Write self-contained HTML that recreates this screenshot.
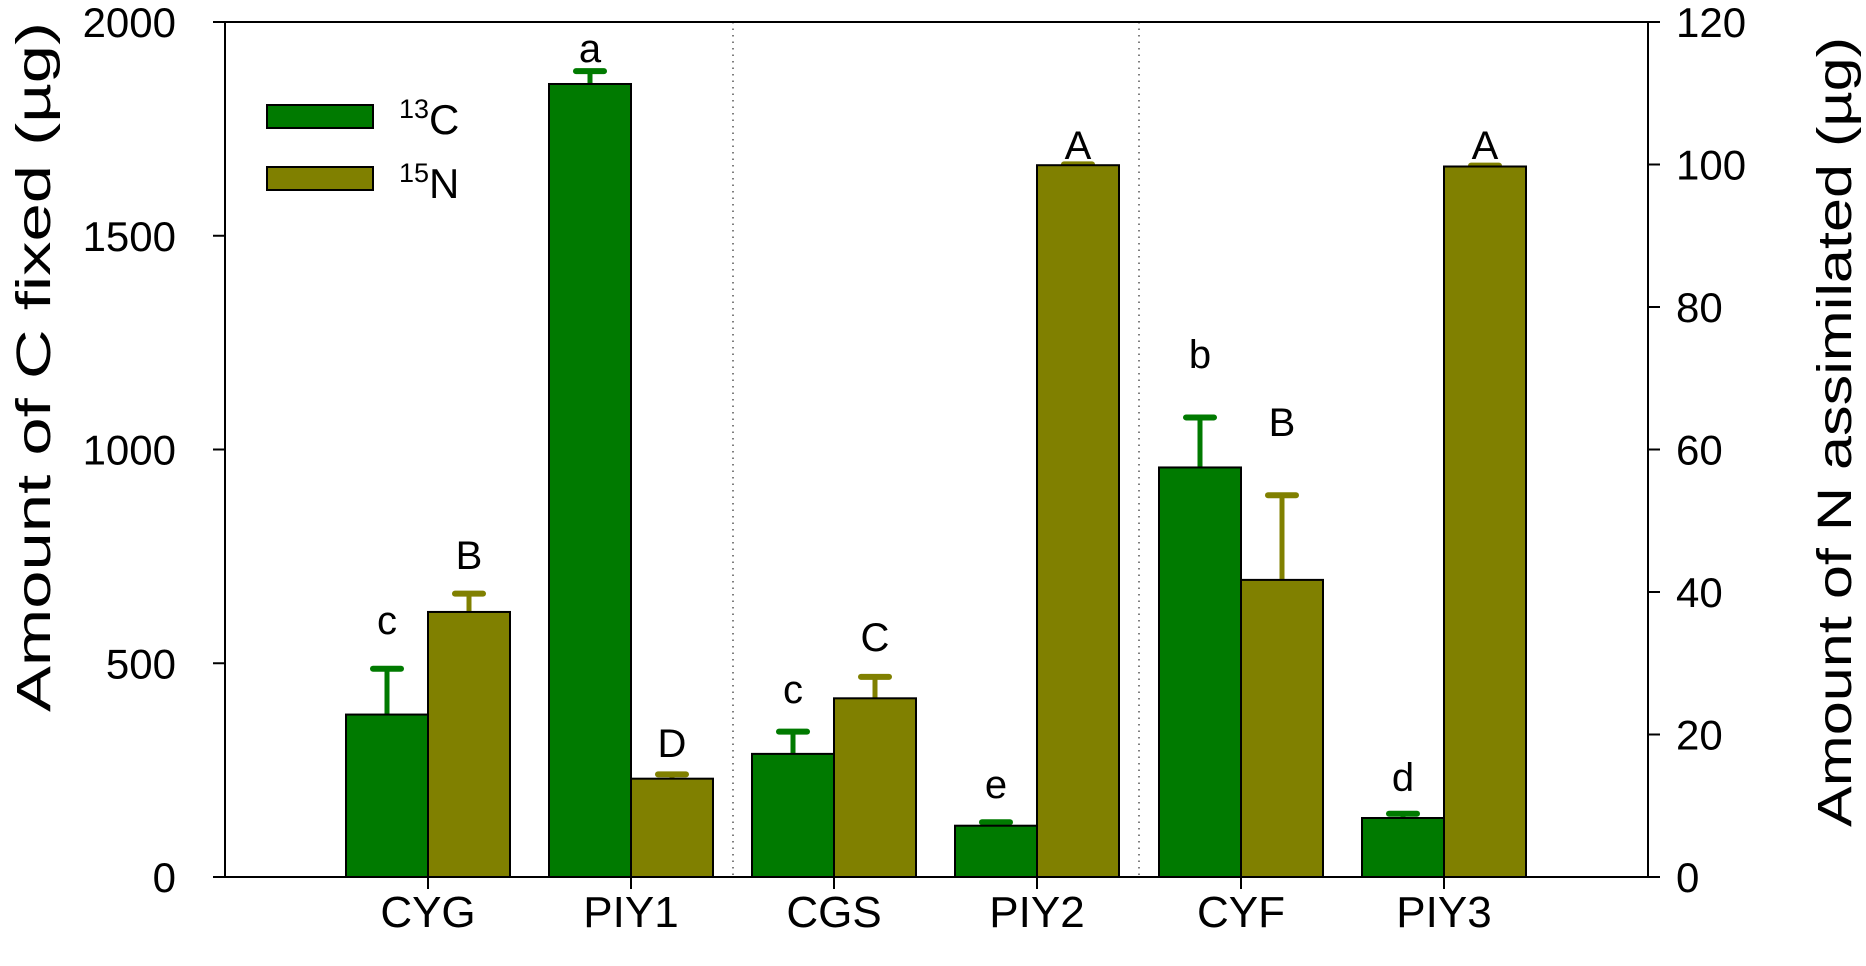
<!DOCTYPE html>
<html><head><meta charset="utf-8"><style>body{margin:0;background:#fff}svg{display:block}text{font-family:"Liberation Sans",Arial,sans-serif;fill:#000}</style></head><body>
<svg id="s" width="1866" height="966" viewBox="0 0 1866 966" xmlns="http://www.w3.org/2000/svg">
<g id="plot"></g>
<rect x="267" y="105" width="106" height="23" fill="#007a00" stroke="#000" stroke-width="2"/>
<rect x="267" y="167" width="106" height="23" fill="#808000" stroke="#000" stroke-width="2"/>
<text x="399" y="134" font-size="42"><tspan font-size="27" dy="-16">13</tspan><tspan dy="16">C</tspan></text>
<text x="399" y="198" font-size="42"><tspan font-size="27" dy="-16">15</tspan><tspan dy="16">N</tspan></text>
<text transform="translate(50,367) rotate(-90)" font-size="48" text-anchor="middle" textLength="690" lengthAdjust="spacingAndGlyphs">Amount of C fixed (µg)</text>
<text transform="translate(1851,432) rotate(-90)" font-size="48" text-anchor="middle" textLength="790" lengthAdjust="spacingAndGlyphs">Amount of N assimilated (µg)</text>
</svg>
<script>
const s=document.getElementById('plot');const NS='http://www.w3.org/2000/svg';
function el(t,a,txt){const e=document.createElementNS(NS,t);for(const k in a)e.setAttribute(k,a[k]);if(txt!==undefined)e.textContent=txt;s.appendChild(e);return e;}
const L=225,R=1648,T=22,B=877,k=(B-T)/2000;
const y=v=>B-v*k;
const G='#007a00',O='#808000';
[733,1139].forEach(x=>el('line',{x1:x,y1:T,x2:x,y2:B,stroke:'#555','stroke-width':1.5,'stroke-dasharray':'1.5 5'}));
const cats=['CYG','PIY1','CGS','PIY2','CYF','PIY3'];
const cx=[428,631,834,1037,1241,1444];
const data=[[380,487,'c',620,620,663,'B',555],[1855,1885,'a',48,230,240,'D',743],[288,340,'c',689,418,468,'C',637],[120,128,'e',784,1665,1667,'A',145],[958,1075,'b',354,695,893,'B',422],[138,148,'d',777,1662,1664,'A',145]];
const w=82;
data.forEach((d,i)=>{const c=cx[i];
 [[c-w,d[0],d[1],d[2],d[3],G],[c,d[4],d[5],d[6],d[7],O]].forEach(([x0,v,e,l,ly,col])=>{
  const xm=x0+w/2;
  el('line',{x1:xm,y1:y(v),x2:xm,y2:y(e),stroke:col,'stroke-width':5});
  el('line',{x1:xm-14,y1:y(e),x2:xm+14,y2:y(e),stroke:col,'stroke-width':6,'stroke-linecap':'round'});
  el('rect',{x:x0,y:y(v),width:w,height:B-y(v),fill:col,stroke:'#000','stroke-width':2});
  el('text',{x:xm,y:ly+14,'font-size':40,'text-anchor':'middle'},l);
 });
 el('line',{x1:c,y1:B,x2:c,y2:B+12,stroke:'#000','stroke-width':2});
 el('text',{x:c,y:927,'font-size':44,'text-anchor':'middle'},cats[i]);
});
el('rect',{x:L,y:T,width:R-L,height:B-T,fill:'none',stroke:'#000','stroke-width':2});
for(let v=0;v<=2000;v+=500){el('line',{x1:L-12,y1:y(v),x2:L,y2:y(v),stroke:'#000','stroke-width':2});el('text',{x:176,y:y(v)+15,'font-size':42,'text-anchor':'end'},v);}
for(let v=0;v<=120;v+=20){const yy=B-v*(B-T)/120;el('line',{x1:R,y1:yy,x2:R+12,y2:yy,stroke:'#000','stroke-width':2});el('text',{x:1676,y:yy+15,'font-size':42},v);}
</script>
</body></html>
